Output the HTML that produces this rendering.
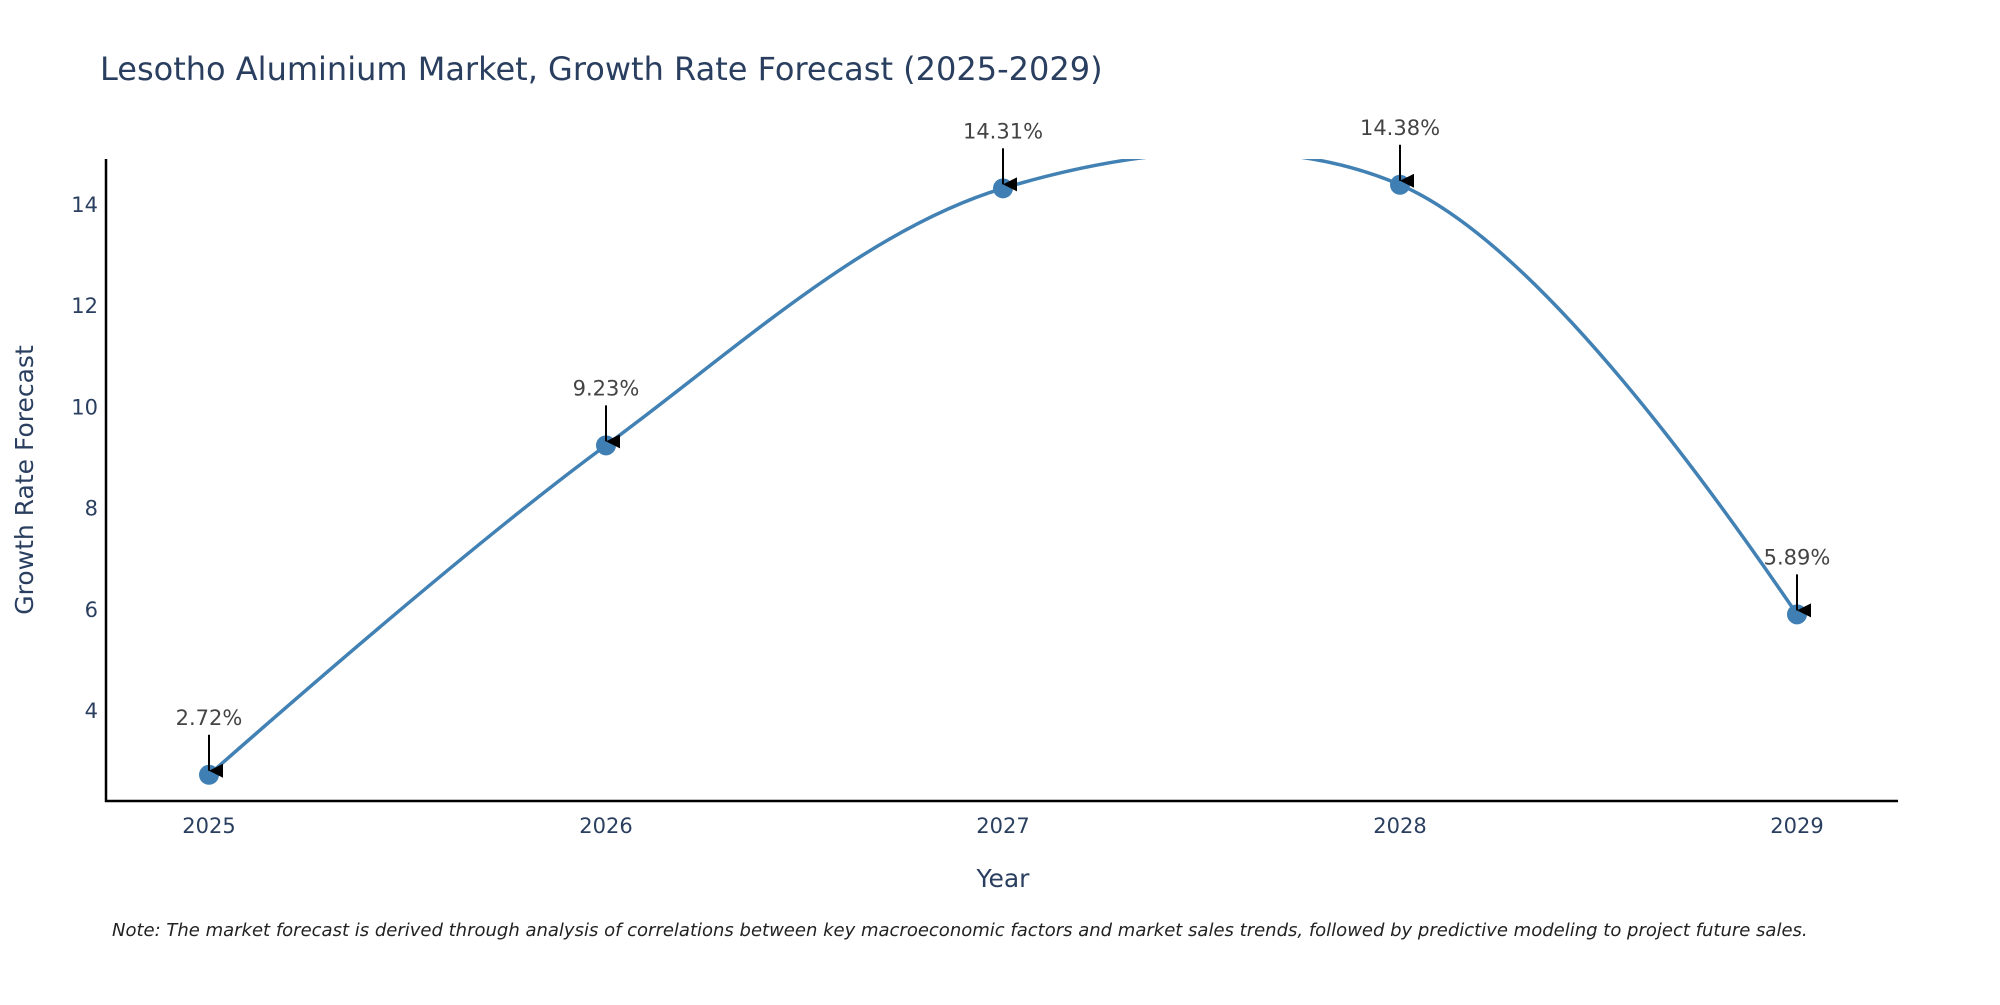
<!DOCTYPE html>
<html><head><meta charset="utf-8"><style>
body{margin:0;background:#fff;}
svg text{font-family:"DejaVu Sans","Liberation Sans",sans-serif;}
</style></head><body>
<svg id="chart" width="2000" height="1000" viewBox="0 0 2000 1000" xmlns="http://www.w3.org/2000/svg">
<defs><clipPath id="plotclip"><rect x="106" y="159" width="1792" height="642"/></clipPath>
<marker id="arrow" viewBox="0 0 10 10" refX="5" refY="10" markerUnits="userSpaceOnUse" markerWidth="14" markerHeight="14" orient="auto"><path d="M0,0 L10,0 L5,10 z" fill="#000"/></marker></defs>
<text x="100" y="80" font-size="32" fill="#2a3f5f">Lesotho Aluminium Market, Growth Rate Forecast (2025-2029)</text>
<g id="yticks"></g>
<g id="xticks"></g>
<line x1="106" y1="159" x2="106" y2="802" stroke="#000" stroke-width="2.5"/>
<line x1="105" y1="801" x2="1898" y2="801" stroke="#000" stroke-width="2.5"/>
<g clip-path="url(#plotclip)"><path id="line" fill="none" stroke="#4281b4" stroke-width="3.5"/></g>
<g id="points"></g>
<g id="annots"></g>
<text x="1003" y="887" font-size="25" fill="#2a3f5f" text-anchor="middle">Year</text>
<text transform="translate(33,480) rotate(-90)" font-size="25" fill="#2a3f5f" text-anchor="middle">Growth Rate Forecast</text>
<text x="112" y="936" font-size="18" font-style="italic" fill="#222">Note: The market forecast is derived through analysis of correlations between key macroeconomic factors and market sales trends, followed by predictive modeling to project future sales.</text>
</svg>
<script>
const years = [2025, 2026, 2027, 2028, 2029];
const values = [2.72, 9.23, 14.31, 14.38, 5.89];
const labels = ["2.72%", "9.23%", "14.31%", "14.38%", "5.89%"];
const yTicks = [4, 6, 8, 10, 12, 14];
const NS = "http://www.w3.org/2000/svg";
const X = v => 209 + (v - 2025) * (1797 - 209) / 4;
const Y = v => 710 - (v - 4) * 50.6;
function mk(tag, attrs, parent){const e=document.createElementNS(NS,tag);for(const k in attrs)e.setAttribute(k,attrs[k]);parent.appendChild(e);return e;}
const yt=document.getElementById('yticks');
yTicks.forEach(t=>{const e=mk('text',{x:98,y:Y(t)+8,'font-size':21,fill:'#2a3f5f','text-anchor':'end'},yt);


e.textContent=t;});
const xt=document.getElementById('xticks');
years.forEach(t=>{const e=mk('text',{x:X(t),y:833,'font-size':21,fill:'#2a3f5f','text-anchor':'middle'},xt);


e.textContent=t;});
const pts=years.map((y,i)=>[X(y),Y(values[i])]);
function ctrl(p0,p1,p2,s){const d1x=p0[0]-p1[0],d1y=p0[1]-p1[1],d2x=p2[0]-p1[0],d2y=p2[1]-p1[1];
const d1a=Math.pow(d1x*d1x+d1y*d1y,0.25),d2a=Math.pow(d2x*d2x+d2y*d2y,0.25);
const nx=(d2a*d2a*d1x-d1a*d1a*d2x)*s,ny=(d2a*d2a*d1y-d1a*d1a*d2y)*s;
const den1=3*d2a*(d1a+d2a),den2=3*d1a*(d1a+d2a);
return [[p1[0]+nx/den1,p1[1]+ny/den1],[p1[0]-nx/den2,p1[1]-ny/den2]];}
const c=[];for(let i=1;i<pts.length-1;i++)c.push(ctrl(pts[i-1],pts[i],pts[i+1],1));
let d='M'+pts[0]+'Q'+c[0][0]+' '+pts[1];
for(let i=2;i<pts.length-1;i++)d+='C'+c[i-2][1]+' '+c[i-1][0]+' '+pts[i];
d+='Q'+c[c.length-1][1]+' '+pts[pts.length-1];
document.getElementById('line').setAttribute('d',d);
const pg=document.getElementById('points'),ag=document.getElementById('annots');
pts.forEach((p,i)=>{const m=mk('circle',{cx:p[0],cy:p[1],r:10,fill:'#3f7fb3'},pg);


const a=mk('line',{x1:p[0],y1:p[1]-40,x2:p[0],y2:p[1]-4,stroke:'#000','stroke-width':2,'marker-end':'url(#arrow)'},ag);


const t=mk('text',{x:p[0],y:p[1]-50,'font-size':21,fill:'#444','text-anchor':'middle'},ag);


t.textContent=labels[i];});
</script>
</body></html>
